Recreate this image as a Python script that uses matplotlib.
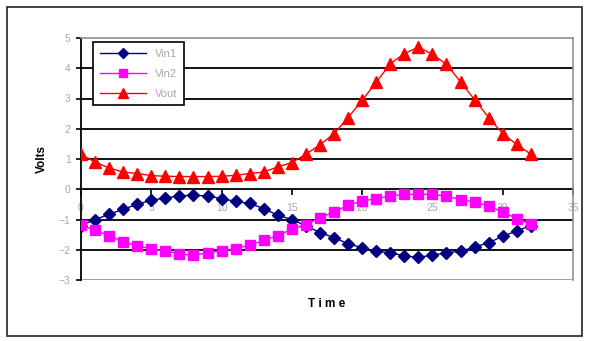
import numpy as np
import matplotlib.pyplot as plt
from matplotlib.patches import Rectangle

# sample times
time = list(range(33))

# input and output voltages at each time step
vin1 = [-1.20, -1.00, -0.83, -0.66, -0.50, -0.36, -0.29, -0.22, -0.20, -0.22,
        -0.31, -0.40, -0.47, -0.64, -0.86, -1.00, -1.21, -1.43, -1.60, -1.80,
        -1.93, -2.05, -2.10, -2.20, -2.25, -2.18, -2.10, -2.05, -1.91, -1.77,
        -1.55, -1.38, -1.20]
vin2 = [-1.17, -1.36, -1.53, -1.75, -1.86, -1.98, -2.04, -2.13, -2.19, -2.10,
        -2.03, -1.96, -1.85, -1.69, -1.53, -1.32, -1.17, -0.94, -0.75, -0.53,
        -0.39, -0.31, -0.22, -0.17, -0.17, -0.17, -0.23, -0.34, -0.42, -0.56,
        -0.75, -0.97, -1.16]
vout = [1.15, 0.90, 0.70, 0.57, 0.52, 0.45, 0.43, 0.42, 0.42, 0.42,
        0.43, 0.46, 0.52, 0.57, 0.74, 0.88, 1.16, 1.47, 1.84, 2.37,
        2.94, 3.53, 4.15, 4.48, 4.70, 4.46, 4.13, 3.55, 2.96, 2.37,
        1.84, 1.48, 1.16]

x_ticks = [0, 5, 10, 15, 20, 25, 30, 35]
y_ticks = [-3, -2, -1, 0, 1, 2, 3, 4, 5]

plt.rcParams['font.family'] = ['Liberation Sans', 'DejaVu Sans']

fig = plt.figure(figsize=(5.9, 3.41), dpi=100)
fig.patch.set_facecolor('white')
# outer frame round the whole chart
fig.patches.append(Rectangle((7 / 590, 5 / 341), 575 / 590, 329 / 341,
                             transform=fig.transFigure, fill=False,
                             edgecolor='#222222', linewidth=1.2))

ax = fig.add_axes([81 / 590, 1 - 280 / 341, 492 / 590, 242 / 341])
ax.set_xlim(0, 35)
ax.set_ylim(-3, 5)

# horizontal gridlines
for yv in [-2, -1, 1, 2, 3, 4]:
    ax.axhline(yv, color='black', linewidth=1.3, zorder=1)
ax.axhline(-3, color='#909090', linewidth=1.2, zorder=1)

ax.plot(time, vin1, color='#000080', marker='D', markersize=6, linewidth=1,
        label='Vin1', zorder=3)
ax.plot(time, vin2, color='#ff00ff', marker='s', markersize=7, linewidth=1,
        label='Vin2', zorder=4)
ax.plot(time, vout, color='#ff0000', marker='^', markersize=8, linewidth=1,
        label='Vout', zorder=5)

ax.spines['bottom'].set_position(('data', 0))
ax.spines['bottom'].set_linewidth(1.3)
ax.spines['left'].set_linewidth(1.3)
ax.spines['bottom'].set_zorder(2)
for side in ['top', 'right']:
    ax.spines[side].set_color('#909090')
    ax.spines[side].set_linewidth(1.2)

ax.set_xticks(x_ticks)
ax.set_yticks(y_ticks)
ax.tick_params(axis='x', direction='out', length=4, width=1.2, pad=6,
               labelsize=7.5, labelcolor='#a8a8a8')
ax.tick_params(axis='y', direction='out', length=3.5, width=1.2, pad=4,
               labelsize=7.5, labelcolor='#a8a8a8')

fig.text(327 / 590, 1 - 304 / 341, 'T i m e', ha='center', va='center',
         fontsize=8.5, fontweight='bold')
fig.text(42 / 590, 1 - 159 / 341, 'Volts', ha='center', va='center',
         rotation=90, fontsize=8.5, fontweight='bold')

leg = ax.legend(loc='upper left', bbox_to_anchor=(93 / 590, 1 - 42 / 341),
                bbox_transform=fig.transFigure, fancybox=False, framealpha=1,
                edgecolor='black', fontsize=8, handlelength=4.2,
                markerscale=0.85, borderpad=0.6, labelspacing=0.9,
                borderaxespad=0)
leg.get_frame().set_linewidth(1.2)
for t in leg.get_texts():
    t.set_color('#a8a8a8')

fig.savefig('out.png', dpi=100)
